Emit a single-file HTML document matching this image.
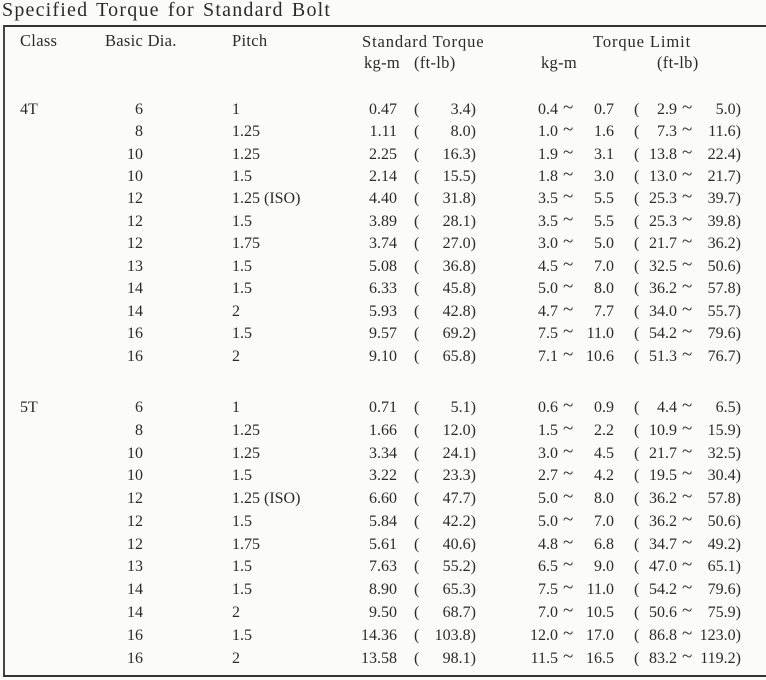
<!DOCTYPE html>
<html><head><meta charset="utf-8"><style>
body{margin:0;width:766px;height:680px;background:#fbfbfa;position:relative;overflow:hidden;font-family:"Liberation Serif",serif;color:#2a2a2a;font-size:16px}
span{position:absolute;line-height:18px;white-space:pre}
.r{position:absolute;left:0;width:766px;height:18px}
.a{left:20px}.b{left:83px;width:60px;text-align:right}.p{left:232px}
.k{left:327px;width:70px;text-align:right}.o{left:414px}.f{left:420px;width:56px;text-align:right}
.l{left:505px;width:53px;text-align:right}.t{left:563px;font-size:19px;top:-2px}.h{left:574px;width:40px;text-align:right}
.q{left:634px}.m{left:640px;width:37px;text-align:right}.u{left:682px;font-size:19px;top:-2px}.n{left:690px;width:51px;text-align:right}
.hd{font-size:16.5px;letter-spacing:0.3px}
</style></head><body>
<div style="position:absolute;left:2px;top:-2px;font-size:20px;letter-spacing:1.2px;word-spacing:2px;line-height:24px">Specified Torque for Standard Bolt</div>
<div style="position:absolute;left:3px;top:25px;width:763px;height:2px;background:#333"></div>
<div style="position:absolute;left:3px;top:25px;width:1.5px;height:652px;background:#444"></div>
<div style="position:absolute;left:3px;top:675px;width:763px;height:2px;background:#333"></div>
<span class="hd" style="left:20px;top:32px">Class</span>
<span class="hd" style="left:105px;top:32px">Basic Dia.</span>
<span class="hd" style="left:232px;top:32px">Pitch</span>
<span class="hd" style="left:362px;top:33px;letter-spacing:0.9px">Standard Torque</span>
<span class="hd" style="left:593px;top:33px;letter-spacing:0.9px">Torque Limit</span>
<span class="hd" style="left:364px;top:54px">kg-m</span>
<span class="hd" style="left:414px;top:54px">(ft-lb)</span>
<span class="hd" style="left:541px;top:54px">kg-m</span>
<span class="hd" style="left:657px;top:54px">(ft-lb)</span>

<div class="r" style="top:101px"><span class="a">4T</span><span class="b">6</span><span class="p">1</span><span class="k">0.47</span><span class="o">(</span><span class="f">3.4)</span><span class="l">0.4</span><span class="t">~</span><span class="h">0.7</span><span class="q">(</span><span class="m">2.9</span><span class="u">~</span><span class="n">5.0)</span></div>
<div class="r" style="top:123px"><span class="b">8</span><span class="p">1.25</span><span class="k">1.11</span><span class="o">(</span><span class="f">8.0)</span><span class="l">1.0</span><span class="t">~</span><span class="h">1.6</span><span class="q">(</span><span class="m">7.3</span><span class="u">~</span><span class="n">11.6)</span></div>
<div class="r" style="top:146px"><span class="b">10</span><span class="p">1.25</span><span class="k">2.25</span><span class="o">(</span><span class="f">16.3)</span><span class="l">1.9</span><span class="t">~</span><span class="h">3.1</span><span class="q">(</span><span class="m">13.8</span><span class="u">~</span><span class="n">22.4)</span></div>
<div class="r" style="top:168px"><span class="b">10</span><span class="p">1.5</span><span class="k">2.14</span><span class="o">(</span><span class="f">15.5)</span><span class="l">1.8</span><span class="t">~</span><span class="h">3.0</span><span class="q">(</span><span class="m">13.0</span><span class="u">~</span><span class="n">21.7)</span></div>
<div class="r" style="top:190px"><span class="b">12</span><span class="p">1.25 (ISO)</span><span class="k">4.40</span><span class="o">(</span><span class="f">31.8)</span><span class="l">3.5</span><span class="t">~</span><span class="h">5.5</span><span class="q">(</span><span class="m">25.3</span><span class="u">~</span><span class="n">39.7)</span></div>
<div class="r" style="top:213px"><span class="b">12</span><span class="p">1.5</span><span class="k">3.89</span><span class="o">(</span><span class="f">28.1)</span><span class="l">3.5</span><span class="t">~</span><span class="h">5.5</span><span class="q">(</span><span class="m">25.3</span><span class="u">~</span><span class="n">39.8)</span></div>
<div class="r" style="top:235px"><span class="b">12</span><span class="p">1.75</span><span class="k">3.74</span><span class="o">(</span><span class="f">27.0)</span><span class="l">3.0</span><span class="t">~</span><span class="h">5.0</span><span class="q">(</span><span class="m">21.7</span><span class="u">~</span><span class="n">36.2)</span></div>
<div class="r" style="top:258px"><span class="b">13</span><span class="p">1.5</span><span class="k">5.08</span><span class="o">(</span><span class="f">36.8)</span><span class="l">4.5</span><span class="t">~</span><span class="h">7.0</span><span class="q">(</span><span class="m">32.5</span><span class="u">~</span><span class="n">50.6)</span></div>
<div class="r" style="top:280px"><span class="b">14</span><span class="p">1.5</span><span class="k">6.33</span><span class="o">(</span><span class="f">45.8)</span><span class="l">5.0</span><span class="t">~</span><span class="h">8.0</span><span class="q">(</span><span class="m">36.2</span><span class="u">~</span><span class="n">57.8)</span></div>
<div class="r" style="top:303px"><span class="b">14</span><span class="p">2</span><span class="k">5.93</span><span class="o">(</span><span class="f">42.8)</span><span class="l">4.7</span><span class="t">~</span><span class="h">7.7</span><span class="q">(</span><span class="m">34.0</span><span class="u">~</span><span class="n">55.7)</span></div>
<div class="r" style="top:325px"><span class="b">16</span><span class="p">1.5</span><span class="k">9.57</span><span class="o">(</span><span class="f">69.2)</span><span class="l">7.5</span><span class="t">~</span><span class="h">11.0</span><span class="q">(</span><span class="m">54.2</span><span class="u">~</span><span class="n">79.6)</span></div>
<div class="r" style="top:348px"><span class="b">16</span><span class="p">2</span><span class="k">9.10</span><span class="o">(</span><span class="f">65.8)</span><span class="l">7.1</span><span class="t">~</span><span class="h">10.6</span><span class="q">(</span><span class="m">51.3</span><span class="u">~</span><span class="n">76.7)</span></div>

<div class="r" style="top:399px"><span class="a">5T</span><span class="b">6</span><span class="p">1</span><span class="k">0.71</span><span class="o">(</span><span class="f">5.1)</span><span class="l">0.6</span><span class="t">~</span><span class="h">0.9</span><span class="q">(</span><span class="m">4.4</span><span class="u">~</span><span class="n">6.5)</span></div>
<div class="r" style="top:422px"><span class="b">8</span><span class="p">1.25</span><span class="k">1.66</span><span class="o">(</span><span class="f">12.0)</span><span class="l">1.5</span><span class="t">~</span><span class="h">2.2</span><span class="q">(</span><span class="m">10.9</span><span class="u">~</span><span class="n">15.9)</span></div>
<div class="r" style="top:445px"><span class="b">10</span><span class="p">1.25</span><span class="k">3.34</span><span class="o">(</span><span class="f">24.1)</span><span class="l">3.0</span><span class="t">~</span><span class="h">4.5</span><span class="q">(</span><span class="m">21.7</span><span class="u">~</span><span class="n">32.5)</span></div>
<div class="r" style="top:467px"><span class="b">10</span><span class="p">1.5</span><span class="k">3.22</span><span class="o">(</span><span class="f">23.3)</span><span class="l">2.7</span><span class="t">~</span><span class="h">4.2</span><span class="q">(</span><span class="m">19.5</span><span class="u">~</span><span class="n">30.4)</span></div>
<div class="r" style="top:490px"><span class="b">12</span><span class="p">1.25 (ISO)</span><span class="k">6.60</span><span class="o">(</span><span class="f">47.7)</span><span class="l">5.0</span><span class="t">~</span><span class="h">8.0</span><span class="q">(</span><span class="m">36.2</span><span class="u">~</span><span class="n">57.8)</span></div>
<div class="r" style="top:513px"><span class="b">12</span><span class="p">1.5</span><span class="k">5.84</span><span class="o">(</span><span class="f">42.2)</span><span class="l">5.0</span><span class="t">~</span><span class="h">7.0</span><span class="q">(</span><span class="m">36.2</span><span class="u">~</span><span class="n">50.6)</span></div>
<div class="r" style="top:536px"><span class="b">12</span><span class="p">1.75</span><span class="k">5.61</span><span class="o">(</span><span class="f">40.6)</span><span class="l">4.8</span><span class="t">~</span><span class="h">6.8</span><span class="q">(</span><span class="m">34.7</span><span class="u">~</span><span class="n">49.2)</span></div>
<div class="r" style="top:558px"><span class="b">13</span><span class="p">1.5</span><span class="k">7.63</span><span class="o">(</span><span class="f">55.2)</span><span class="l">6.5</span><span class="t">~</span><span class="h">9.0</span><span class="q">(</span><span class="m">47.0</span><span class="u">~</span><span class="n">65.1)</span></div>
<div class="r" style="top:581px"><span class="b">14</span><span class="p">1.5</span><span class="k">8.90</span><span class="o">(</span><span class="f">65.3)</span><span class="l">7.5</span><span class="t">~</span><span class="h">11.0</span><span class="q">(</span><span class="m">54.2</span><span class="u">~</span><span class="n">79.6)</span></div>
<div class="r" style="top:604px"><span class="b">14</span><span class="p">2</span><span class="k">9.50</span><span class="o">(</span><span class="f">68.7)</span><span class="l">7.0</span><span class="t">~</span><span class="h">10.5</span><span class="q">(</span><span class="m">50.6</span><span class="u">~</span><span class="n">75.9)</span></div>
<div class="r" style="top:627px"><span class="b">16</span><span class="p">1.5</span><span class="k">14.36</span><span class="o">(</span><span class="f">103.8)</span><span class="l">12.0</span><span class="t">~</span><span class="h">17.0</span><span class="q">(</span><span class="m">86.8</span><span class="u">~</span><span class="n">123.0)</span></div>
<div class="r" style="top:650px"><span class="b">16</span><span class="p">2</span><span class="k">13.58</span><span class="o">(</span><span class="f">98.1)</span><span class="l">11.5</span><span class="t">~</span><span class="h">16.5</span><span class="q">(</span><span class="m">83.2</span><span class="u">~</span><span class="n">119.2)</span></div>
</body></html>
